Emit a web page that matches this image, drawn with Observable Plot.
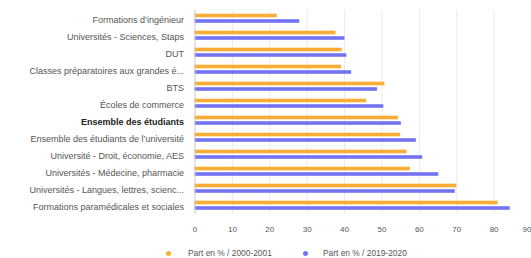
<!DOCTYPE html>
<html>
<head>
<meta charset="utf-8">
<script src="https://cdn.jsdelivr.net/npm/d3@7"></script>
<script src="https://cdn.jsdelivr.net/npm/@observablehq/plot@0.6"></script>
<style>
  body { margin: 0; background: #fff; font-family: "Liberation Sans", Arial, sans-serif; }
  #chart { width: 531px; }
  .legend { position: relative; height: 14px; margin-top: 2px; font-size: 8.4px; color: #555; }
  .legend .item { position: absolute; top: 0; line-height: 14px; white-space: nowrap; }
  .legend .dot { position: absolute; top: 4.5px; width: 5px; height: 5px; border-radius: 50%; }
</style>
</head>
<body>
<div id="chart"></div>
<script>
const categories = [
  "Formations d’ingénieur",
  "Universités - Sciences, Staps",
  "DUT",
  "Classes préparatoires aux grandes é...",
  "BTS",
  "Écoles de commerce",
  "Ensemble des étudiants",
  "Ensemble des étudiants de l’université",
  "Université - Droit, économie, AES",
  "Universités - Médecine, pharmacie",
  "Universités - Langues, lettres, scienc...",
  "Formations paramédicales et sociales"
];
const series = ["Part en % / 2000-2001", "Part en % / 2019-2020"];
const values2000 = [22, 37.7, 39.4, 39.2, 50.8, 45.9, 54.4, 55.0, 56.7, 57.6, 70.0, 81.1];
const values2019 = [28, 40.1, 40.6, 41.9, 48.8, 50.5, 55.2, 59.2, 60.9, 65.2, 69.6, 84.3];
const xTicks = [0, 10, 20, 30, 40, 50, 60, 70, 80, 90];
const colors = ["#f9ad36", "#7373f2"];
const boldCategory = "Ensemble des étudiants";

const rows2000 = categories.map((c, i) => ({category: c, value: values2000[i]}));
const rows2019 = categories.map((c, i) => ({category: c, value: values2019[i]}));
const lastTick = xTicks[xTicks.length - 1];

const plot = Plot.plot({
  width: 531,
  height: 244,
  marginLeft: 194.5,
  marginRight: 0,
  marginTop: 10,
  marginBottom: 30,
  style: {fontFamily: "'Liberation Sans', Arial, sans-serif", background: "#fff"},
  x: {domain: [0, 90], axis: null},
  y: {domain: categories, padding: 0, axis: null},
  marks: [
    Plot.ruleX(xTicks.filter(d => d > 0), {stroke: "#ebebeb", strokeWidth: 1}),
    Plot.barX(rows2000, {y: "category", x: "value", fill: colors[0], insetTop: 3.7, insetBottom: 9.7}),
    Plot.barX(rows2019, {y: "category", x: "value", fill: colors[1], insetTop: 9.2, insetBottom: 4.2}),
    Plot.ruleX([0], {stroke: "#c8c8c8", strokeWidth: 1}),
    Plot.text(categories.filter(d => d !== boldCategory), {
      x: 0, y: d => d, text: d => d, textAnchor: "end", dx: -11, dy: 1.5,
      fill: "#555", fontSize: 9
    }),
    Plot.text([boldCategory], {
      x: 0, y: d => d, text: d => d, textAnchor: "end", dx: -11, dy: 1.5,
      fill: "#222", fontSize: 9, fontWeight: "bold"
    }),
    Plot.text(xTicks.filter(d => d !== lastTick), {
      x: d => d, text: d => String(d), frameAnchor: "bottom", dy: 17.5,
      textAnchor: "middle", fill: "#555", fontSize: 8
    }),
    Plot.text([lastTick], {
      x: d => d, text: d => String(d), frameAnchor: "bottom", dy: 17.5,
      textAnchor: "end", fill: "#555", fontSize: 8
    })
  ]
});
document.getElementById("chart").appendChild(plot);

const legend = document.createElement("div");
legend.className = "legend";
const pos = [{dot: 165.5, text: 188}, {dot: 302.5, text: 323}];
series.forEach((s, i) => {
  const dot = document.createElement("div");
  dot.className = "dot";
  dot.style.left = pos[i].dot + "px";
  dot.style.background = colors[i];
  legend.appendChild(dot);
  const item = document.createElement("div");
  item.className = "item";
  item.style.left = pos[i].text + "px";
  item.textContent = s;
  legend.appendChild(item);
});
document.getElementById("chart").appendChild(legend);
</script>
</body>
</html>
